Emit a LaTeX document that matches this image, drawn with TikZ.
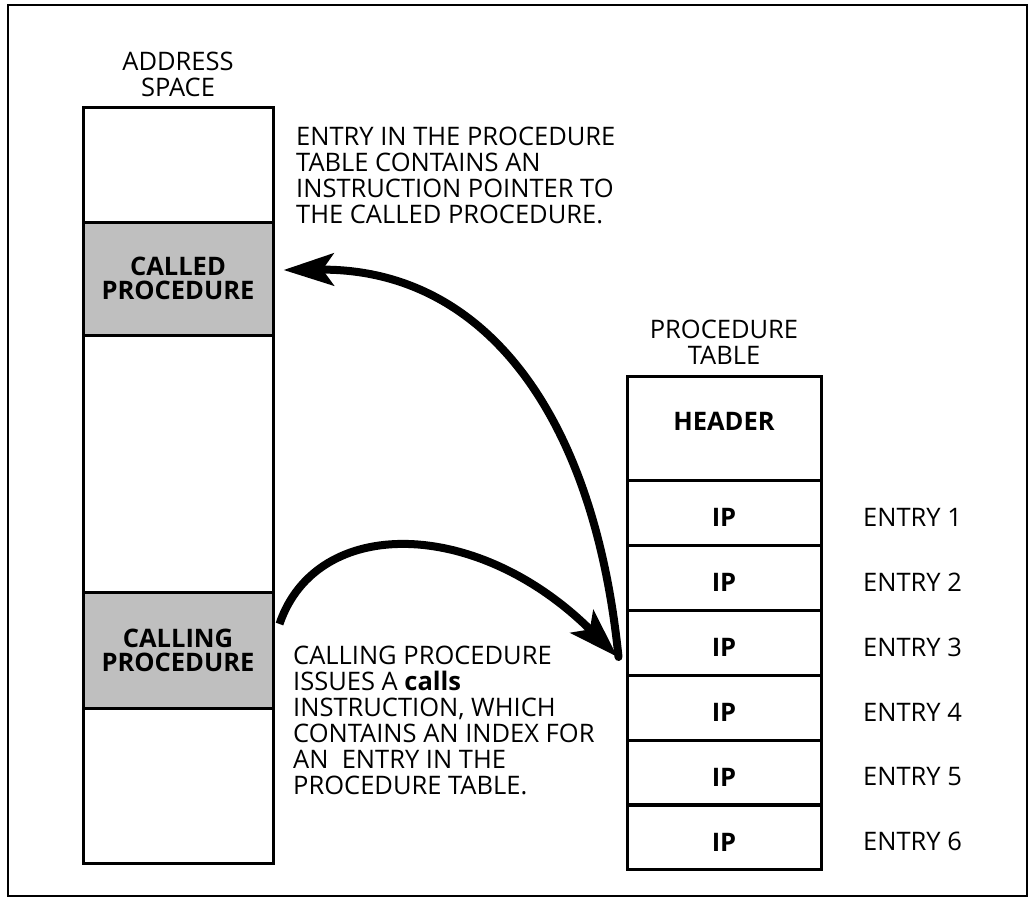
\documentclass[tikz,border=0pt]{standalone}
\usepackage{fontspec}
\setmainfont{Open Sans}
\usetikzlibrary{arrows.meta}
\begin{document}
\begin{tikzpicture}[x=1pt,y=-1pt,
  cell/.style={draw, line width=3pt, rectangle, inner sep=0pt},
  memcell/.style={cell, minimum width=190pt},
  tabcell/.style={cell, minimum width=194pt, font=\fontsize{25.5}{26}\selectfont\bfseries},
  hatched/.style={memcell, fill=black!25, align=center, font=\fontsize{25.5}{24}\selectfont\bfseries},
  txt/.style={inner sep=0pt, font=\fontsize{25.5}{26}\selectfont},
  flow/.style={line width=8pt, line cap=round, -{Stealth[length=50pt,width=32pt,inset=11pt]}}
]
\useasboundingbox (0,0) rectangle (1033,900);
\draw[line width=2.5pt] (8,5) rectangle (1027,896);

% address space column
\node[txt, align=center, anchor=north] (astitle) at (178,52) {ADDRESS\\SPACE};
\node[memcell, minimum height=115pt] (as1) at (178,164.5) {};
\node[hatched, minimum height=113pt] (called) at (178,278.5) {CALLED\\PROCEDURE};
\node[memcell, minimum height=257pt] (as2) at (178,463.5) {};
\node[hatched, minimum height=116pt] (calling) at (178,650) {CALLING\\PROCEDURE};
\node[memcell, minimum height=155pt] (as3) at (178,785.5) {};

% procedure table
\node[txt, align=center, anchor=north] (pttitle) at (724,320) {PROCEDURE\\TABLE};
\node[tabcell, minimum height=104pt, text depth=14pt] (header) at (724,428) {HEADER};
\foreach \i/\y in {1/512.5, 2/577.5, 3/642.5, 4/707.5, 5/772.5, 6/837} {
  \node[tabcell, minimum height=65pt, text height=28pt] (e\i) at (724,\y) {IP};
  \node[txt, anchor=west] (n\i) at (863,\y+4.5) {ENTRY \i};
}

% notes
\node[txt, align=left, anchor=north west] (note1) at (296,127)
  {ENTRY IN THE PROCEDURE\\TABLE CONTAINS AN\\INSTRUCTION POINTER TO\\THE CALLED PROCEDURE.};
\node[txt, align=left, anchor=north west] (note2) at (293,646)
  {CALLING PROCEDURE\\ISSUES A \textbf{calls}\\INSTRUCTION, WHICH\\CONTAINS AN INDEX FOR\\AN\ \ ENTRY IN THE\\PROCEDURE TABLE.};

% call flow
\coordinate (hub) at ([shift={(-7,14.5)}]e3.west);
\draw[flow] (hub) .. controls +(-25,-247) and +(198,-2) .. ([shift={(9,-8.5)}]called.east);
\draw[flow, line cap=butt] ([shift={(5,-26)}]calling.east) .. controls +(37,-109) and +(-140,-140) .. ([shift={(-1,0)}]hub);
\end{tikzpicture}
\end{document}
